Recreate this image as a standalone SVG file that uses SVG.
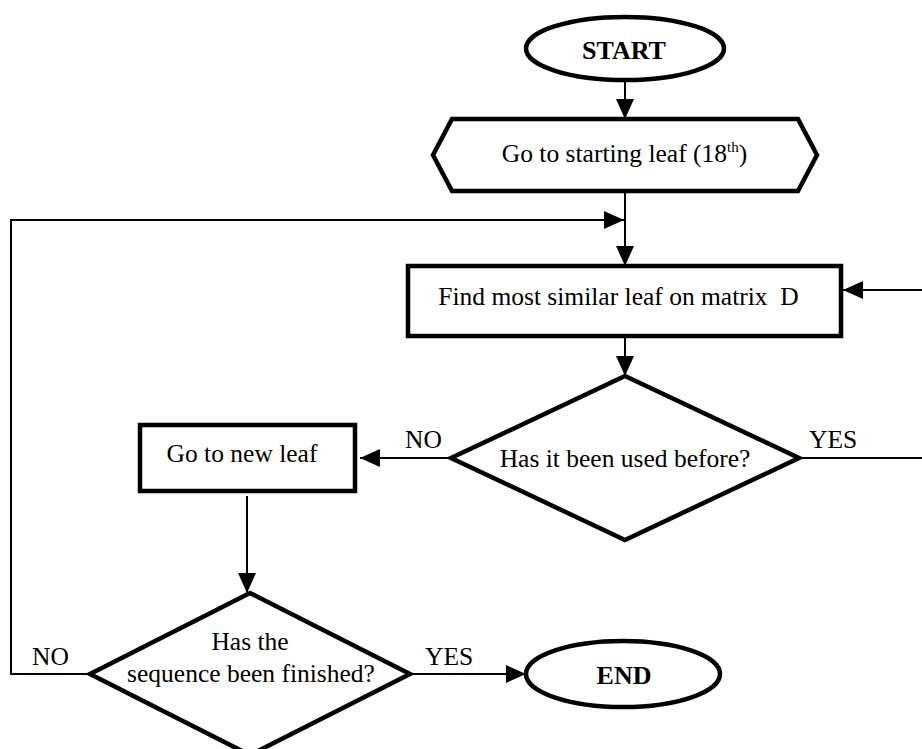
<svg xmlns="http://www.w3.org/2000/svg" width="922" height="749" viewBox="0 0 922 749">
<style>
.node{fill:#fff;stroke:#000;stroke-width:4.5;stroke-linejoin:miter}
.conn{fill:none;stroke:#000;stroke-width:2}
.t{font-family:"Liberation Serif","Times New Roman",serif;font-size:25.5px;fill:#000;text-anchor:middle}
.b{font-weight:bold;font-size:26px}
.lbl{font-family:"Liberation Serif","Times New Roman",serif;font-size:25.5px;fill:#000}
</style>
<defs>
<marker id="ah" markerUnits="userSpaceOnUse" markerWidth="20" markerHeight="18" refX="20" refY="9" orient="auto" viewBox="0 0 20 18">
<path d="M0,0 L20,9 L0,18 z" fill="#000"/>
</marker>
</defs>
<rect width="922" height="749" fill="#fff"/>
<g id="connectors">
<path class="conn" d="M625,80 V119" marker-end="url(#ah)"/>
<path class="conn" d="M625,191 V266" marker-end="url(#ah)"/>
<path class="conn" d="M625,336 V376" marker-end="url(#ah)"/>
<path class="conn" d="M451,458 H360" marker-end="url(#ah)"/>
<path class="conn" d="M799,458 H925 V290 H843" marker-end="url(#ah)"/>
<path class="conn" d="M247,496 V593" marker-end="url(#ah)"/>
<path class="conn" d="M90,674 H11 V220 H624" marker-end="url(#ah)"/>
<path class="conn" d="M410,674 H526" marker-end="url(#ah)"/>
<text class="lbl" x="405" y="448">NO</text>
<text class="lbl" x="809" y="448">YES</text>
<text class="lbl" x="32" y="665">NO</text>
<text class="lbl" x="425" y="665">YES</text>
</g>
<g id="start">
<ellipse class="node" cx="625" cy="48.5" rx="99" ry="31.5"/>
<text class="t b" x="624" y="59">START</text>
</g>
<g id="go-start">
<polygon class="node" points="452,119 798,119 817,155 798,191 452,191 433,155"/>
<text class="t" x="624.5" y="162">Go to starting leaf (18<tspan font-size="15" dy="-10">th</tspan><tspan dy="10">)</tspan></text>
</g>
<g id="find">
<rect class="node" x="408" y="266" width="433" height="70"/>
<text class="t" x="618.5" y="305" xml:space="preserve">Find most similar leaf on matrix  D</text>
</g>
<g id="used">
<polygon class="node" points="625,376 799,458 625,540 451,458"/>
<text class="t" x="625" y="467">Has it been used before?</text>
</g>
<g id="new-leaf">
<rect class="node" x="140" y="425" width="215" height="66"/>
<text class="t" x="242" y="462">Go to new leaf</text>
</g>
<g id="finished">
<polygon class="node" points="250,593 410,674 250,755 90,674"/>
<text class="t" x="250" y="650">Has the</text>
<text class="t" x="251" y="682">sequence been finished?</text>
</g>
<g id="end">
<ellipse class="node" cx="623" cy="674" rx="97" ry="33"/>
<text class="t b" x="624" y="684">END</text>
</g>
</svg>
